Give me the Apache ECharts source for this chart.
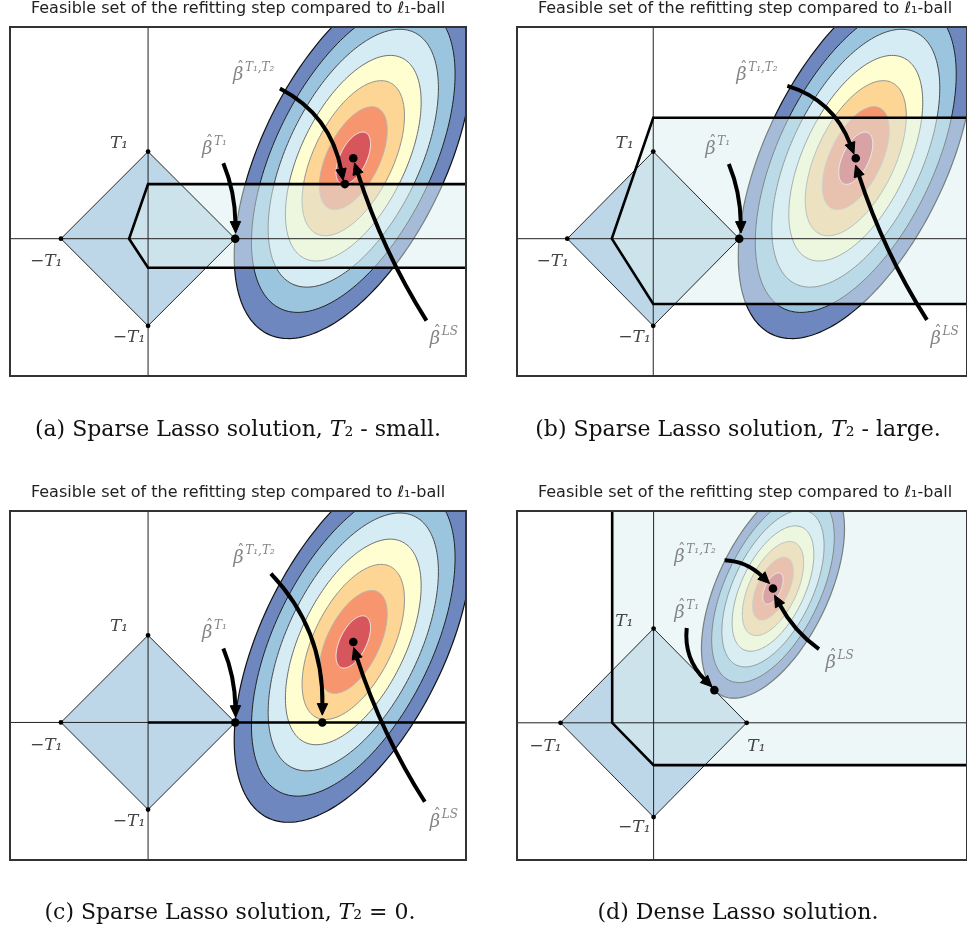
<!DOCTYPE html>
<html><head><meta charset="utf-8">
<script src="https://cdn.jsdelivr.net/npm/echarts@6/dist/echarts.min.js"></script>
<style>html,body{margin:0;padding:0;background:#fff}#c{width:967px;height:932px}</style>
</head><body><div id="c"></div>
<script>
// ================= DATA (data coordinates, T1 = 1) =================
const diamond = [[-1, 0], [0, 1], [1, 0], [0, -1]];
const diamondVertices = [[-1, 0], [0, 1], [1, 0], [0, -1]];

// least-squares centre of the quadratic loss, contour shape and levels
const lsCenterABC = [2.356, 0.924];
const lsCenterD = [1.283, 1.425];
const ellipseCov = [[0.436, 0.36], [0.36, 1.0]];
const contourRadiiABC = [2.07, 1.77, 1.48, 1.18, 0.89, 0.59, 0.30];
const contourRadiiD = [1.164, 0.998, 0.832, 0.665, 0.499, 0.333, 0.166];

// feasible sets of the refitting step
const feasibleFillA = [[-0.218, 0], [0, 0.627], [20, 0.627], [20, -0.333], [0, -0.333]];
const feasibleEdgeA = [[20, 0.627], [0, 0.627], [-0.218, 0], [0, -0.333], [20, -0.333]];
const feasibleFillB = [[-0.482, 0], [0, 1.388], [20, 1.388], [20, -0.749], [0, -0.749]];
const feasibleEdgeB = [[20, 1.388], [0, 1.388], [-0.482, 0], [0, -0.749], [20, -0.749]];
const feasibleFillC = [];
const feasibleEdgeC = [[0, 0], [20, 0]];
const feasibleFillD = [[-0.445, 20], [-0.445, 0], [0, -0.449], [20, -0.449], [20, 20]];
const feasibleEdgeD = [[-0.445, 20], [-0.445, 0], [0, -0.449], [20, -0.449]];

// estimates: lasso, refitted, least squares
const pointsA = [[1, 0], [2.26, 0.627], [2.356, 0.924]];
const pointsB = [[1, 0], [2.356, 0.924]];
const pointsC = [[1, 0], [2.0, 0], [2.356, 0.924]];
const pointsD = [[0.653, 0.347], [1.283, 1.425]];

// arrows: [x0, y0, x1, y1, bend]
const arrowsA = [[1.514, 1.725, 2.24, 0.67, 0.22], [0.864, 0.865, 1.005, 0.065, 0.08], [3.196, -0.94, 2.37, 0.87, 0.06]];
const arrowsB = [[1.56, 1.755, 2.335, 0.971, 0.22], [0.879, 0.857, 1.02, 0.065, 0.08], [3.184, -0.932, 2.354, 0.845, 0.06]];
const arrowsC = [[1.41, 1.709, 2.0, 0.084, 0.19], [0.864, 0.849, 1.005, 0.06, 0.08], [3.177, -0.91, 2.36, 0.86, 0.06]];
const arrowsD = [[0.763, 1.725, 1.247, 1.478, 0.15], [0.356, 1.007, 0.629, 0.38, -0.2], [1.777, 0.782, 1.3, 1.354, 0.1]];

// estimator labels: [x, y, superscript]
const betaLabelsA = [[0.975, 1.889, 'T₁,T₂'], [0.619, 1.039, 'T₁'], [3.234, -1.14, 'LS']];
const betaLabelsB = [[0.965, 1.889, 'T₁,T₂'], [0.605, 1.039, 'T₁'], [3.225, -1.14, 'LS']];
const betaLabelsC = [[0.978, 1.9, 'T₁,T₂'], [0.619, 1.04, 'T₁'], [3.234, -1.13, 'LS']];
const betaLabelsD = [[0.223, 1.768, 'T₁,T₂'], [0.223, 1.177, 'T₁'], [1.848, 0.647, 'LS']];

// threshold labels: [x, y, text]
const tLabelsABC = [[-0.333, 1.097, 'T₁'], [-1.17, -0.267, '−T₁'], [-0.218, -1.14, '−T₁']];
const tLabelsD = [[-0.315, 1.078, 'T₁'], [-1.163, -0.247, '−T₁'], [1.105, -0.252, 'T₁'], [-0.208, -1.117, '−T₁']];

// axis ranges
const xRangeABC = [-1.585, 3.65];
const yRangeAB = [-1.576, 2.43];
const yRangeC = [-1.579, 2.427];
const xRangeD = [-1.468, 3.368];
const yRangeD = [-1.456, 2.248];

const titleText = 'Feasible set of the refitting step compared to ℓ₁-ball';
const captions = ['(a) Sparse Lasso solution, {i|T}₂ - small.', '(b) Sparse Lasso solution, {i|T}₂ - large.',
                  '(c) Sparse Lasso solution, {i|T}₂ = 0.', '(d) Dense Lasso solution.'];

// ================= STYLE =================
const bandColors = ['#6e87bf', '#9bc4de', '#d6ecf4', '#fefed1', '#fdd594', '#f6956e', '#d6565c'];
const contourLineColors = ['#111111', '#222222', '#4a4a4a', '#6e6e6e', '#919191', '#b5b5b5', '#f2f2f2'];
const diamondColor = '#bdd7e8';
const overlayColor = '#dceff0';

const panels = [
  {grid: {left: 10, top: 27, width: 456, height: 349}, xr: xRangeABC, yr: yRangeAB, c: lsCenterABC, radii: contourRadiiABC,
   fill: feasibleFillA, edge: feasibleEdgeA, pts: pointsA, arrows: arrowsA, betas: betaLabelsA, tl: tLabelsABC,
   titleX: 238, titleY: 9, capX: 238, capY: 430},
  {grid: {left: 517, top: 27, width: 456, height: 349}, xr: xRangeABC, yr: yRangeAB, c: lsCenterABC, radii: contourRadiiABC,
   fill: feasibleFillB, edge: feasibleEdgeB, pts: pointsB, arrows: arrowsB, betas: betaLabelsB, tl: tLabelsABC,
   titleX: 745, titleY: 9, capX: 738, capY: 430},
  {grid: {left: 10, top: 511, width: 456, height: 349}, xr: xRangeABC, yr: yRangeC, c: lsCenterABC, radii: contourRadiiABC,
   fill: feasibleFillC, edge: feasibleEdgeC, pts: pointsC, arrows: arrowsC, betas: betaLabelsC, tl: tLabelsABC,
   titleX: 238, titleY: 493, capX: 230, capY: 913},
  {grid: {left: 517, top: 511, width: 456, height: 349}, xr: xRangeD, yr: yRangeD, c: lsCenterD, radii: contourRadiiD,
   fill: feasibleFillD, edge: feasibleEdgeD, pts: pointsD, arrows: arrowsD, betas: betaLabelsD, tl: tLabelsD,
   titleX: 745, titleY: 493, capX: 738, capY: 913}
];

function ellipsePoints(c, r) {
  const l11 = Math.sqrt(ellipseCov[0][0]);
  const l21 = ellipseCov[0][1] / l11;
  const l22 = Math.sqrt(ellipseCov[1][1] - l21 * l21);
  const out = [];
  for (let i = 0; i < 200; i++) {
    const t = 2 * Math.PI * i / 200;
    out.push([c[0] + r * l11 * Math.cos(t), c[1] + r * (l21 * Math.cos(t) + l22 * Math.sin(t))]);
  }
  return out;
}

function arrowEls(p0, p1, bend) {
  const dx = p1[0] - p0[0], dy = p1[1] - p0[1];
  const cp = [(p0[0] + p1[0]) / 2 + bend * dy, (p0[1] + p1[1]) / 2 - bend * dx];
  let tx = p1[0] - cp[0], ty = p1[1] - cp[1];
  const tl = Math.hypot(tx, ty); tx /= tl; ty /= tl;
  const HL = 11.5, HW = 5.2;
  const base = [p1[0] - tx * HL, p1[1] - ty * HL];
  const cp2 = [cp[0] - tx * HL * 0.5, cp[1] - ty * HL * 0.5];
  return [
    {type: 'bezierCurve', shape: {x1: p0[0], y1: p0[1], x2: base[0] + tx * 1.5, y2: base[1] + ty * 1.5, cpx1: cp2[0], cpy1: cp2[1]},
     style: {stroke: '#000', lineWidth: 4, fill: null}},
    {type: 'polygon', shape: {points: [p1, [base[0] - ty * HW, base[1] + tx * HW], [base[0] + ty * HW, base[1] - tx * HW]]},
     style: {fill: '#000', stroke: '#000', lineWidth: 1, lineJoin: 'miter'}}
  ];
}

function contentRender(P) {
  return function (params, api) {
    const m = p => api.coord(p);
    const ch = [];
    ch.push({type: 'polygon', shape: {points: diamond.map(m)}, style: {fill: diamondColor}});
    P.radii.forEach((r, k) => {
      ch.push({type: 'polygon', shape: {points: ellipsePoints(P.c, r).map(m)},
               style: {fill: bandColors[k], stroke: contourLineColors[k], lineWidth: k === 0 ? 1.2 : 1}});
    });
    if (P.fill.length) {
      ch.push({type: 'polygon', shape: {points: P.fill.map(m)}, style: {fill: overlayColor, opacity: 0.5}});
    }
    ch.push({type: 'line', shape: {x1: m([0, P.yr[0]])[0], y1: m([0, P.yr[0]])[1], x2: m([0, P.yr[1]])[0], y2: m([0, P.yr[1]])[1]},
             style: {stroke: '#222', lineWidth: 1}});
    ch.push({type: 'line', shape: {x1: m([P.xr[0], 0])[0], y1: m([P.xr[0], 0])[1], x2: m([P.xr[1], 0])[0], y2: m([P.xr[1], 0])[1]},
             style: {stroke: '#222', lineWidth: 1}});
    ch.push({type: 'polygon', shape: {points: diamond.map(m)}, style: {fill: null, stroke: '#111', lineWidth: 0.9}});
    ch.push({type: 'polyline', shape: {points: P.edge.map(m)}, style: {stroke: '#000', lineWidth: 2.6, fill: null, lineJoin: 'miter'}});
    return {type: 'group', children: ch};
  };
}

const labelGray = '#858585';
function overlayRender(P) {
  return function (params, api) {
    const m = p => api.coord(p);
    const cs = params.coordSys;
    const ch = [];
    P.arrows.forEach(a => { ch.push(...arrowEls(m([a[0], a[1]]), m([a[2], a[3]]), a[4])); });
    diamondVertices.forEach(v => { const q = m(v); ch.push({type: 'circle', shape: {cx: q[0], cy: q[1], r: 2.4}, style: {fill: '#000'}}); });
    P.pts.forEach(v => { const q = m(v); ch.push({type: 'circle', shape: {cx: q[0], cy: q[1], r: 4.3}, style: {fill: '#000'}}); });
    P.betas.forEach(b => {
      const q = m([b[0], b[1]]);
      ch.push({type: 'text', x: q[0], y: q[1] + 1, style: {text: 'β', font: 'italic 18px "DejaVu Serif"', fill: labelGray,
               textAlign: 'left', align: 'left', textVerticalAlign: 'middle', verticalAlign: 'middle'}});
      ch.push({type: 'text', x: q[0] + 7.5, y: q[1] - 6, style: {text: 'ˆ', font: '15px "DejaVu Serif"', fill: labelGray,
               textAlign: 'center', align: 'center', textVerticalAlign: 'middle', verticalAlign: 'middle'}});
      ch.push({type: 'text', x: q[0] + 12, y: q[1] - 6, style: {text: b[2], font: 'italic 12px "DejaVu Serif"', fill: labelGray,
               textAlign: 'left', align: 'left', textVerticalAlign: 'middle', verticalAlign: 'middle'}});
    });
    P.tl.forEach(t => {
      const q = m([t[0], t[1]]);
      ch.push({type: 'text', x: q[0], y: q[1], style: {text: t[2], font: 'italic 17px "DejaVu Serif"', fill: '#444',
               textAlign: 'center', align: 'center', textVerticalAlign: 'middle', verticalAlign: 'middle'}});
    });
    ch.push({type: 'rect', shape: {x: cs.x, y: cs.y, width: cs.width, height: cs.height}, style: {fill: null, stroke: '#333', lineWidth: 2}});
    return {type: 'group', children: ch};
  };
}

const option = {
  animation: false,
  backgroundColor: '#fff',
  grid: panels.map(P => Object.assign({containLabel: false, show: false}, P.grid)),
  xAxis: panels.map((P, i) => ({type: 'value', gridIndex: i, min: P.xr[0], max: P.xr[1], show: false})),
  yAxis: panels.map((P, i) => ({type: 'value', gridIndex: i, min: P.yr[0], max: P.yr[1], show: false})),
  series: [].concat(...panels.map((P, i) => [
    {type: 'custom', xAxisIndex: i, yAxisIndex: i, clip: true, z: 2, data: [[0, 0]], renderItem: contentRender(P), silent: true},
    {type: 'custom', xAxisIndex: i, yAxisIndex: i, clip: false, z: 3, data: [[0, 0]], renderItem: overlayRender(P), silent: true}
  ])),
  graphic: [].concat(...panels.map((P, i) => [
    {type: 'text', x: P.titleX, y: P.titleY, z: 10, style: {text: titleText, font: '16px "DejaVu Sans"', fill: '#222',
     textAlign: 'center', textVerticalAlign: 'middle'}},
    {type: 'text', x: P.capX, y: P.capY, z: 10, style: {text: captions[i], font: '22px "DejaVu Serif"', fill: '#111',
     textAlign: 'center', textVerticalAlign: 'middle', rich: {i: {fontStyle: 'italic', fontSize: 22, fontFamily: 'DejaVu Serif'}}}}
  ]))
};

const chart = echarts.init(document.getElementById('c'), null, {renderer: 'canvas'});
chart.setOption(option);
</script></body></html>
